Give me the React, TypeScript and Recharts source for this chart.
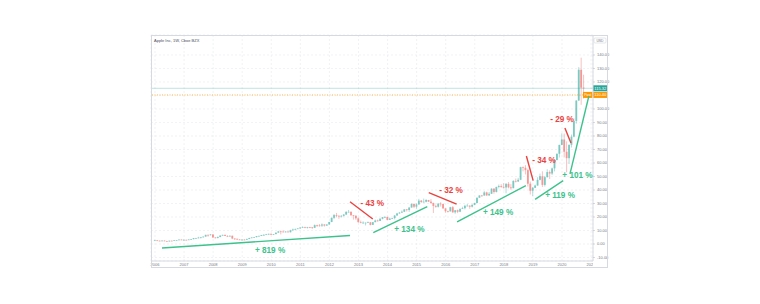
import React from 'react';
import { ComposedChart, Bar, XAxis, YAxis, CartesianGrid, ReferenceLine, ReferenceDot } from 'recharts';

// Apple Inc, monthly candles (split adjusted), month 0 = Jan 2006
const firstOpen = 2.58;

const closes: number[] = [
  2.70, 2.45, 2.24, 2.51, 2.13, 2.05, 2.43, 2.42, 2.75, 2.90, 3.27, 3.03,
  3.06, 3.02, 3.32, 3.56, 4.33, 4.36, 4.71, 4.95, 5.48, 6.78, 6.51, 7.07,
  4.83, 4.47, 5.13, 6.21, 6.74, 5.98, 5.68, 6.05, 4.06, 3.84, 3.31, 3.05,
  3.22, 3.19, 3.75, 4.49, 4.85, 5.09, 5.84, 6.01, 6.62, 6.73, 7.14, 7.53,
  6.86, 7.31, 8.39, 9.32, 9.17, 8.98, 9.19, 8.68, 10.13, 10.75, 11.11, 11.52,
  12.12, 12.61, 12.45, 12.50, 12.42, 11.99, 13.95, 13.74, 13.62, 14.46, 13.65, 14.46,
  16.30, 19.37, 21.41, 20.86, 20.63, 20.86, 21.81, 23.76, 23.83, 21.26, 20.90, 19.01,
  16.27, 15.76, 15.81, 15.81, 16.06, 14.16, 16.16, 17.40, 17.03, 18.67, 19.86, 20.04,
  17.88, 18.79, 19.17, 21.07, 22.61, 23.23, 23.90, 25.63, 25.19, 27.00, 29.73, 27.60,
  29.29, 32.12, 31.11, 31.29, 32.57, 31.36, 30.33, 28.19, 27.58, 29.88, 29.58, 26.32,
  24.34, 24.17, 27.25, 23.44, 24.97, 23.90, 26.05, 26.53, 28.26, 28.39, 27.63, 28.96,
  30.34, 34.25, 35.92, 35.91, 38.19, 36.01, 37.18, 41.00, 38.53, 42.26, 42.96, 42.31,
  41.86, 44.53, 41.95, 41.32, 46.72, 46.28, 47.57, 56.91, 56.44, 54.72, 44.65, 39.44,
  41.61, 43.29, 47.49, 50.17, 43.77, 49.48, 53.26, 52.19, 55.99, 62.19, 66.81, 73.41,
  77.38, 68.34, 63.57, 73.45, 79.49, 91.20, 106.26, 129.04, 115.81, 115.32,
];

const highs: number[] = [
  3.09, 2.71, 2.50, 2.61, 2.58, 2.25, 2.44, 2.45, 2.78, 2.93, 3.33, 3.28,
  3.49, 3.25, 3.42, 3.67, 4.36, 4.56, 5.32, 4.99, 5.56, 6.79, 6.96, 7.25,
  7.15, 4.93, 5.60, 6.46, 6.86, 6.91, 6.44, 6.45, 6.31, 4.16, 3.99, 3.60,
  3.47, 3.68, 3.89, 4.50, 4.86, 5.16, 5.89, 6.15, 6.68, 7.35, 7.46, 7.61,
  7.70, 7.32, 8.48, 9.73, 9.67, 9.96, 9.46, 9.46, 10.53, 11.41, 11.48, 11.64,
  12.45, 13.03, 12.71, 12.68, 12.61, 12.49, 14.45, 14.29, 14.76, 15.24, 14.59, 14.52,
  16.36, 19.56, 22.20, 23.00, 21.31, 21.38, 22.14, 24.32, 25.18, 24.14, 21.40, 21.24,
  19.82, 17.32, 16.78, 15.86, 16.64, 16.33, 16.29, 18.11, 18.07, 19.18, 19.94, 20.54,
  20.14, 19.53, 19.31, 21.41, 23.01, 23.76, 24.85, 25.73, 25.93, 27.20, 29.94, 29.81,
  30.00, 33.40, 32.57, 33.63, 33.24, 32.65, 33.24, 30.65, 29.22, 30.30, 30.95, 29.80,
  26.36, 24.72, 27.59, 28.10, 25.18, 25.47, 26.14, 27.55, 29.04, 29.67, 28.60, 29.51,
  30.60, 34.37, 36.12, 36.36, 39.16, 38.75, 38.50, 41.23, 41.23, 42.41, 44.06, 44.30,
  45.03, 45.15, 45.88, 44.33, 47.23, 48.47, 48.99, 57.22, 57.42, 58.37, 55.72, 46.23,
  42.25, 43.97, 49.42, 52.12, 53.83, 50.40, 55.34, 54.50, 56.61, 62.44, 67.00, 73.49,
  81.96, 81.81, 76.00, 73.63, 81.06, 93.10, 106.40, 131.00, 137.98, 125.39,
];

const lows: number[] = [
  2.57, 2.37, 2.10, 2.21, 2.13, 1.99, 1.79, 2.16, 2.39, 2.64, 2.85, 2.86,
  2.93, 2.97, 3.00, 3.20, 3.52, 4.12, 4.30, 4.05, 4.76, 5.42, 5.38, 6.36,
  4.50, 4.12, 4.12, 5.13, 6.17, 5.96, 5.23, 5.59, 3.59, 3.00, 2.94, 3.00,
  2.79, 3.09, 2.96, 3.59, 4.26, 4.79, 4.87, 5.71, 5.86, 6.42, 6.71, 6.75,
  6.79, 6.80, 7.28, 8.30, 7.12, 8.69, 8.56, 8.54, 8.60, 9.92, 10.55, 11.10,
  11.50, 12.06, 11.65, 11.44, 11.80, 11.09, 11.90, 12.61, 12.86, 12.65, 12.89, 13.39,
  14.40, 16.18, 18.44, 19.82, 18.65, 19.60, 20.36, 21.44, 23.43, 20.99, 18.06, 17.90,
  15.54, 15.36, 14.96, 13.75, 15.47, 13.76, 14.10, 16.14, 16.57, 16.95, 18.25, 19.29,
  17.70, 17.80, 18.49, 18.26, 21.04, 22.40, 23.10, 23.66, 24.07, 23.80, 26.93, 26.57,
  26.15, 29.03, 30.40, 30.77, 30.85, 31.13, 29.80, 23.00, 26.83, 27.00, 27.75, 26.30,
  23.25, 23.30, 24.10, 23.13, 22.38, 22.88, 23.60, 26.00, 25.63, 28.00, 26.03, 27.03,
  28.69, 30.15, 34.25, 35.03, 35.70, 35.55, 35.60, 37.10, 37.29, 38.13, 41.20, 41.60,
  41.20, 37.56, 41.20, 40.20, 41.30, 45.56, 45.90, 47.30, 53.80, 51.50, 42.58, 36.65,
  35.50, 41.50, 43.20, 47.10, 42.25, 42.57, 49.30, 48.15, 51.05, 53.78, 62.00, 64.07,
  73.19, 64.09, 53.15, 59.22, 71.46, 79.00, 89.14, 106.00, 103.10, 107.72,
];

const yearTicks = [0, 12, 24, 36, 48, 60, 72, 84, 96, 108, 120, 132, 144, 156, 168, 180];
const priceTicks = [-10, 0, 10, 20, 30, 40, 50, 60, 70, 80, 90, 100, 110, 120, 130, 140];

// trend / drawdown annotations, in (month, price)
const upMoves = [
  { label: '+ 819 %', x1: 2.9, y1: -3.0, x2: 80.5, y2: 6.3, tx: 47.5, ty: -4.6 },
  { label: '+ 134 %', x1: 90.1, y1: 8.4, x2: 112.4, y2: 27.6, tx: 105.0, ty: 10.9 },
  { label: '+ 149 %', x1: 124.7, y1: 16.3, x2: 153.1, y2: 43.3, tx: 141.6, ty: 23.0 },
  { label: '+ 119 %', x1: 156.9, y1: 33.1, x2: 168.5, y2: 46.9, tx: 167.2, ty: 35.6 },
  { label: '+ 101 %', x1: 171.3, y1: 51.9, x2: 179.1, y2: 109.6, tx: 174.4, ty: 50.4 },
];
const downMoves = [
  { label: '- 43 %', x1: 80.5, y1: 31.3, x2: 89.9, y2: 18.5, tx: 89.7, ty: 30.1 },
  { label: '- 32 %', x1: 113.0, y1: 38.0, x2: 124.5, y2: 29.6, tx: 122.2, ty: 39.3 },
  { label: '- 34 %', x1: 153.3, y1: 65.2, x2: 156.1, y2: 46.9, tx: 160.6, ty: 62.2 },
  { label: '- 29 %', x1: 169.2, y1: 85.9, x2: 171.7, y2: 74.8, tx: 168.0, ty: 91.9 },
];

const lastPrice = 115.32;
const postPrice = 110.4;

const UP = '#26a69a';
const DOWN = '#ef5350';
const GREEN = '#3cc28c';
const RED = '#e8433f';
const TEXT = '#787b86';
const FONT = '"Liberation Sans", Arial, sans-serif';
const PLOT_RIGHT = 593;

const data = closes.map((c, i) => ({
  t: i,
  open: i === 0 ? firstOpen : closes[i - 1],
  close: c,
  high: highs[i],
  low: lows[i],
  range: [lows[i], highs[i]],
}));

const Candle = (props: any) => {
  const { x, y, width, height, payload } = props;
  if (x == null || y == null) return null;
  const top = height < 0 ? y + height : y;
  const h = Math.abs(height);
  const { open, close, high, low } = payload;
  const py = (v: number) => top + ((high - v) / (high - low || 1)) * h;
  const cx = x + width / 2;
  const up = close >= open;
  const color = up ? UP : DOWN;
  const b1 = py(Math.max(open, close));
  const b2 = py(Math.min(open, close));
  return (
    <g opacity={0.6}>
      <line x1={cx} x2={cx} y1={top} y2={top + h} stroke={color} strokeWidth={0.6} />
      <rect x={cx - 0.9} y={b1} width={1.8} height={Math.max(b2 - b1, 0.7)} fill={color} />
    </g>
  );
};

const YearTick = (props: any) => {
  const { x, y, payload } = props;
  const year = 2006 + payload.value / 12;
  const left = x - 10;
  return (
    <g>
      <clipPath id={`yc${year}`}>
        <rect x={left} y={y - 2} width={Math.max(0, PLOT_RIGHT - left)} height={10} />
      </clipPath>
      <text x={x} y={y + 4.6} textAnchor="middle" fontSize={4} fill={TEXT} fontFamily={FONT} clipPath={`url(#yc${year})`}>
        {year}
      </text>
    </g>
  );
};

// tick labels hidden behind the price boxes, as on the reference
const PriceTick = (props: any) => {
  const { x, y, payload } = props;
  const covered = Math.abs(payload.value - postPrice) < 4 || Math.abs(payload.value - lastPrice) < 4;
  return (
    <g>
      <line x1={x} x2={x + 2} y1={y} y2={y} stroke="#b2b5be" strokeWidth={0.5} />
      {!covered && (
        <text x={x + 4} y={y + 1.4} fontSize={4} fill={TEXT} fontFamily={FONT}>
          {payload.value.toFixed(2)}
        </text>
      )}
    </g>
  );
};

const priceBox = (value: number, color: string, tag?: string) => (props: any) => {
  const vb = props.viewBox || {};
  const right = vb.x + vb.width;
  const cy = vb.y;
  return (
    <g>
      {tag && (
        <g>
          <rect x={right - 10} y={cy - 3} width={9.5} height={6} fill={color} />
          <text x={right - 5.25} y={cy + 1.4} textAnchor="middle" fontSize={3.6} fill="#fff" fontFamily={FONT}>{tag}</text>
        </g>
      )}
      <rect x={right} y={cy - 3} width={14.5} height={6} fill={color} />
      <text x={right + 7.25} y={cy + 1.4} textAnchor="middle" fontSize={4} fill="#fff" fontFamily={FONT}>
        {value.toFixed(2)}
      </text>
    </g>
  );
};

const moveText = (label: string, color: string) => (p: any) => (
  <text x={p.cx} y={p.cy} textAnchor="middle" dominantBaseline="central" fontSize={8.2} fontWeight="bold" fill={color} fontFamily={FONT}>
    {label}
  </text>
);

const App: React.FC = () => {
  return (
    <div style={{ position: 'absolute', left: 0, top: 0, width: 760, height: 304, background: '#fff' }}>
      <ComposedChart width={760} height={304} data={data} margin={{ top: 35, right: 152, bottom: 36, left: 151 }}>
        <CartesianGrid stroke="#e8eaef" strokeWidth={0.6} strokeDasharray="2 2" />
        <XAxis
          dataKey="t"
          type="number"
          domain={[-1.65, 180.8]}
          allowDataOverflow
          ticks={yearTicks}
          height={7}
          tickLine={false}
          tickSize={0}
          tickMargin={0}
          axisLine={{ stroke: '#d6d9e0' }}
          tick={<YearTick />}
          interval={0}
        />
        <YAxis
          orientation="right"
          type="number"
          domain={[-12.6, 154.8]}
          allowDataOverflow
          ticks={priceTicks}
          width={15}
          tickLine={false}
          tickSize={0}
          tickMargin={0}
          axisLine={{ stroke: '#d6d9e0' }}
          tick={<PriceTick />}
          interval={0}
        />
        <ReferenceLine y={lastPrice} stroke={UP} strokeOpacity={0.5} strokeWidth={0.6} label={priceBox(lastPrice, UP)} />
        <ReferenceLine y={postPrice} stroke="#ff9800" strokeWidth={0.7} strokeDasharray="1 1.5" label={priceBox(postPrice, '#ff9800', 'Post')} />
        <Bar dataKey="range" barSize={2} shape={<Candle />} isAnimationActive={false} />
        {upMoves.map((m) => (
          <ReferenceLine key={m.label} segment={[{ x: m.x1, y: m.y1 }, { x: m.x2, y: m.y2 }]} stroke={GREEN} strokeWidth={1.4} />
        ))}
        {downMoves.map((m) => (
          <ReferenceLine key={m.label} segment={[{ x: m.x1, y: m.y1 }, { x: m.x2, y: m.y2 }]} stroke={RED} strokeWidth={1.4} />
        ))}
        {upMoves.map((m) => (
          <ReferenceDot key={'t' + m.label} x={m.tx} y={m.ty} r={0} shape={moveText(m.label, GREEN)} />
        ))}
        {downMoves.map((m) => (
          <ReferenceDot key={'t' + m.label} x={m.tx} y={m.ty} r={0} shape={moveText(m.label, RED)} />
        ))}
      </ComposedChart>
      <svg width={760} height={304} style={{ position: 'absolute', left: 0, top: 0, pointerEvents: 'none' }}>
        <rect x={151.5} y={35.5} width={456} height={232} fill="none" stroke="#d6d9e0" strokeWidth={1} />
        <text x={154} y={41.5} fontSize={4} fill="#4a4e59" fontFamily={FONT}>Apple Inc, 1W, Cboe BZX</text>
        <rect x={594} y={38} width={12} height={5} rx={1} fill="#fff" stroke="#c9ccd4" strokeWidth={0.5} />
        <text x={600} y={41.6} textAnchor="middle" fontSize={3.4} fill={TEXT} fontFamily={FONT}>USD</text>
      </svg>
    </div>
  );
};

export default App;
